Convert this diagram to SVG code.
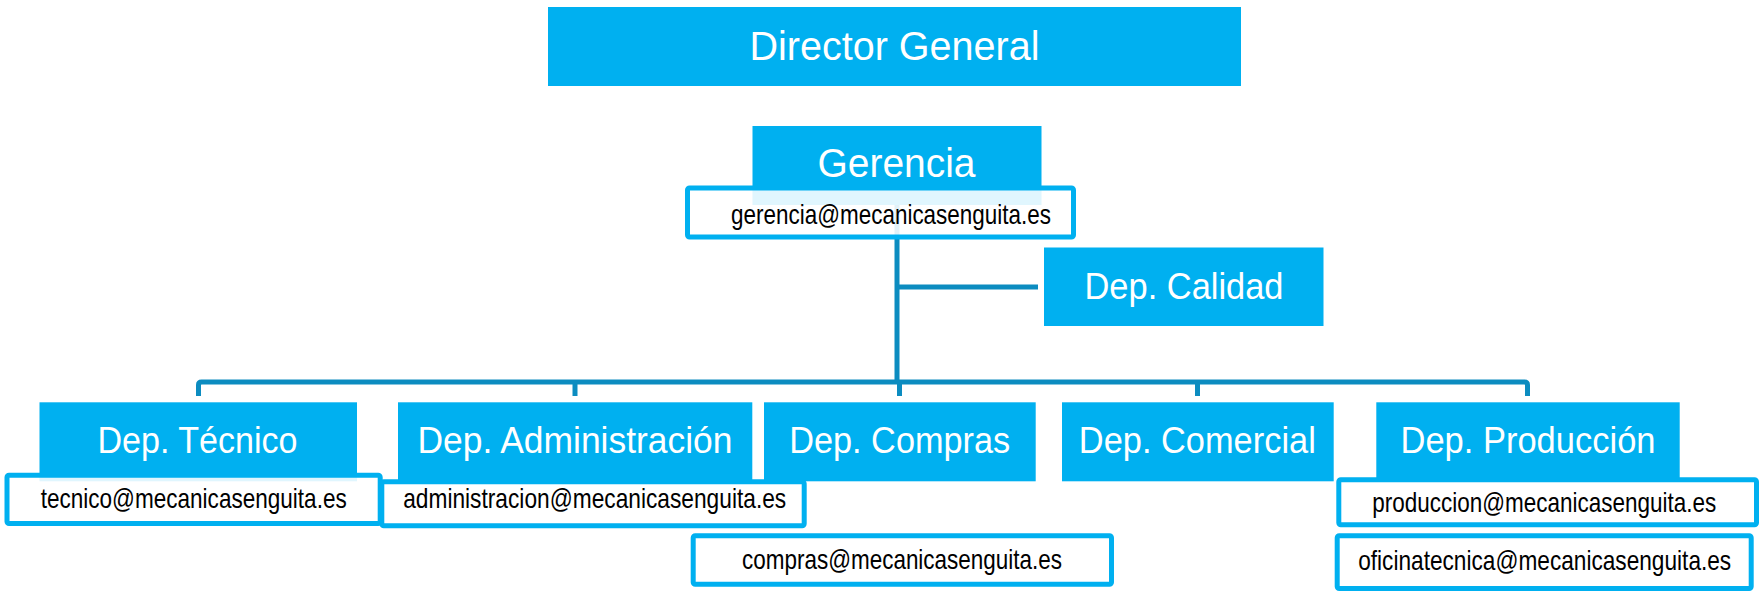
<svg xmlns="http://www.w3.org/2000/svg" width="1763" height="593" viewBox="0 0 1763 593">
  <style>
    .box { fill: #00B0F0; }
    .lbl { fill: #FFFFFF; font-family: "Liberation Sans", Arial, sans-serif; font-size: 36px; text-anchor: middle; }
    .big { font-size: 40px; }
    .mail { fill: #FFFFFF; fill-opacity: 0.88; stroke: #00B0F0; stroke-width: 5; }
    .mtxt { fill: #000000; font-family: "Liberation Sans Narrow", "Liberation Sans", Arial, sans-serif; font-size: 28px; text-anchor: middle; }
    .conn { fill: none; stroke: #0C8CC0; stroke-width: 5; }
  </style>
  <rect width="1763" height="593" fill="#FFFFFF"/>
  <g id="connectors">
    <line class="conn" x1="897" y1="205" x2="897" y2="384"/>
    <line class="conn" x1="897" y1="287" x2="1038" y2="287"/>
    <path class="conn" d="M198.5,396 V385 Q198.5,382 201.5,382 H1524.5 Q1527.5,382 1527.5,385 V396"/>
    <line class="conn" x1="575" y1="382" x2="575" y2="396"/>
    <line class="conn" x1="899.5" y1="382" x2="899.5" y2="396"/>
    <line class="conn" x1="1197.5" y1="382" x2="1197.5" y2="396"/>
  </g>
  <g id="director">
    <rect class="box" x="548" y="7" width="693" height="79"/>
    <text class="lbl big" x="894.5" y="59.5" textLength="290" lengthAdjust="spacingAndGlyphs">Director General</text>
  </g>
  <g id="gerencia">
    <rect class="box" x="752.5" y="126" width="289" height="79"/>
    <text class="lbl big" x="896.5" y="177" textLength="158" lengthAdjust="spacingAndGlyphs">Gerencia</text>
    <rect class="mail" x="687.5" y="188" width="386" height="49" rx="2"/>
    <text class="mtxt" x="891" y="224" textLength="320" lengthAdjust="spacingAndGlyphs">gerencia@mecanicasenguita.es</text>
  </g>
  <g id="calidad">
    <rect class="box" x="1044" y="247.5" width="279.5" height="78.5"/>
    <text class="lbl" x="1184" y="298.5" textLength="199" lengthAdjust="spacingAndGlyphs">Dep. Calidad</text>
  </g>
  <g id="tecnico">
    <rect class="box" x="39.5" y="402.3" width="317.5" height="79"/>
    <text class="lbl" x="197.5" y="453" textLength="200" lengthAdjust="spacingAndGlyphs">Dep. Técnico</text>
    <rect class="mail" x="7" y="475.2" width="373.2" height="48.3" rx="2"/>
    <text class="mtxt" x="193.7" y="507.5" textLength="306" lengthAdjust="spacingAndGlyphs">tecnico@mecanicasenguita.es</text>
  </g>
  <g id="administracion">
    <rect class="box" x="398" y="402.3" width="354.3" height="79"/>
    <text class="lbl" x="575" y="453" textLength="315" lengthAdjust="spacingAndGlyphs">Dep. Administración</text>
    <rect class="mail" x="381.8" y="481.8" width="422.4" height="44" rx="2"/>
    <text class="mtxt" x="594.7" y="507.5" textLength="383" lengthAdjust="spacingAndGlyphs">administracion@mecanicasenguita.es</text>
  </g>
  <g id="compras">
    <rect class="box" x="764" y="402.3" width="271.7" height="79"/>
    <text class="lbl" x="899.7" y="453" textLength="221" lengthAdjust="spacingAndGlyphs">Dep. Compras</text>
    <rect class="mail" x="693.2" y="535.8" width="418.3" height="48.4" rx="2"/>
    <text class="mtxt" x="902" y="569" textLength="320" lengthAdjust="spacingAndGlyphs">compras@mecanicasenguita.es</text>
  </g>
  <g id="comercial">
    <rect class="box" x="1062" y="402.3" width="271.7" height="79"/>
    <text class="lbl" x="1197.3" y="453" textLength="237" lengthAdjust="spacingAndGlyphs">Dep. Comercial</text>
  </g>
  <g id="produccion">
    <rect class="box" x="1376.3" y="402.3" width="303.4" height="79"/>
    <text class="lbl" x="1528" y="453" textLength="255" lengthAdjust="spacingAndGlyphs">Dep. Producción</text>
    <rect class="mail" x="1338.8" y="479.8" width="417.7" height="45" rx="2"/>
    <text class="mtxt" x="1544.3" y="511.7" textLength="344" lengthAdjust="spacingAndGlyphs">produccion@mecanicasenguita.es</text>
    <rect class="mail" x="1337.2" y="535.8" width="414" height="52.7" rx="2"/>
    <text class="mtxt" x="1544.7" y="570" textLength="373" lengthAdjust="spacingAndGlyphs">oficinatecnica@mecanicasenguita.es</text>
  </g>
</svg>
